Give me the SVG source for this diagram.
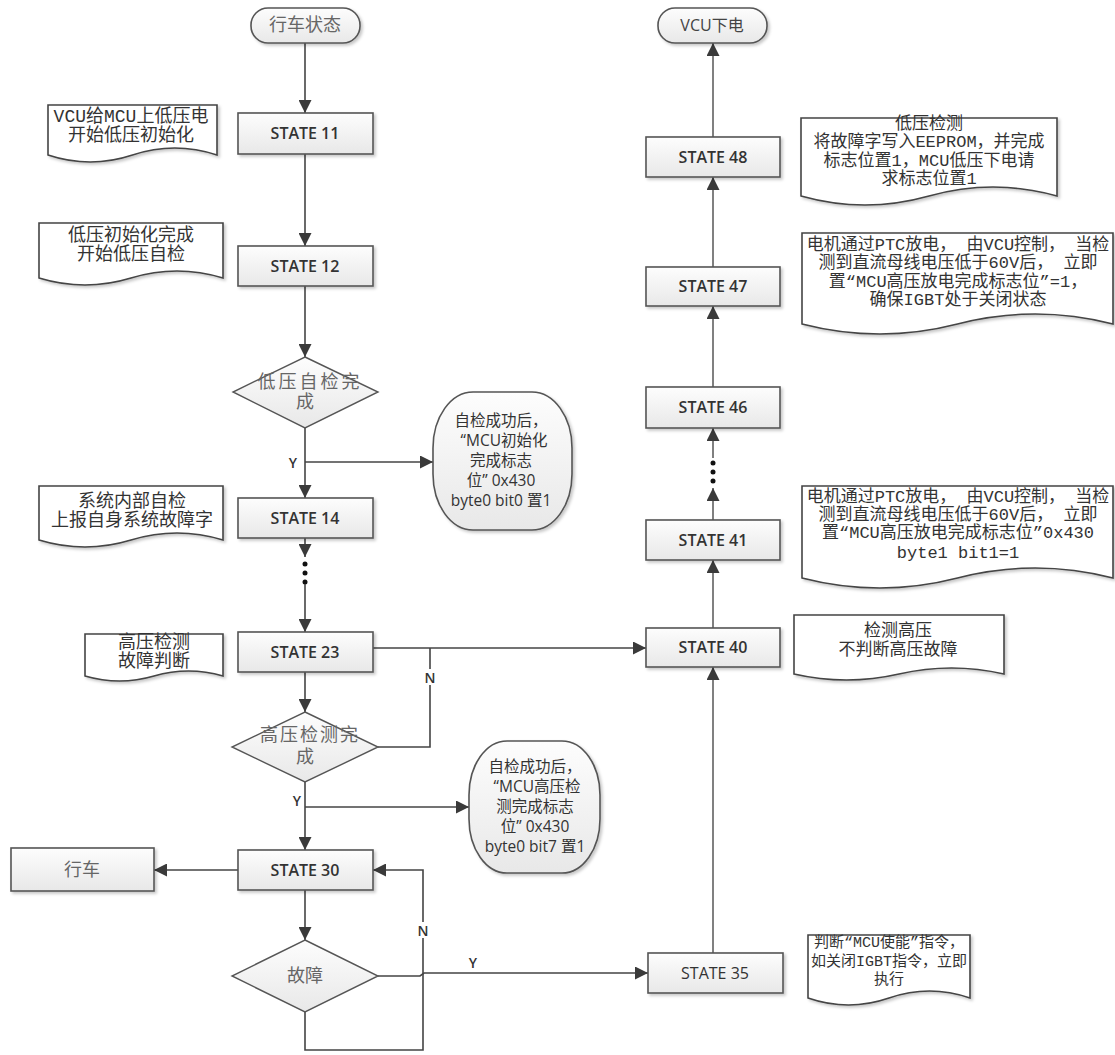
<svg xmlns="http://www.w3.org/2000/svg" width="1115" height="1055" viewBox="0 0 1115 1055">
<defs>
<linearGradient id="g" x1="0" y1="0" x2="0" y2="1"><stop offset="0" stop-color="#fdfdfd"/><stop offset="1" stop-color="#e8e8e8"/></linearGradient>
<filter id="sh" x="-10%" y="-10%" width="130%" height="140%"><feDropShadow dx="2" dy="2" stdDeviation="1.5" flood-color="#000" flood-opacity="0.22"/></filter>
<marker id="ah" viewBox="0 0 10 10" refX="10" refY="5" markerWidth="13" markerHeight="13" markerUnits="userSpaceOnUse" orient="auto"><path d="M0,0 L10,5 L0,10 z" fill="#3a3a3a"/></marker>
</defs>
<style>
.box{fill:url(#g);stroke:#555;stroke-width:1.6;filter:url(#sh)}
.note{fill:#fff;stroke:#444;stroke-width:1.6;filter:url(#sh)}
.dia{fill:url(#g);stroke:#555;stroke-width:1.4}
.st{font-family:"Open Sans","Liberation Sans",sans-serif;font-size:16px;font-weight:600;fill:#333;text-anchor:middle;dominant-baseline:central}
.stn{font-family:"Open Sans","Liberation Sans",sans-serif;font-size:16px;font-weight:400;fill:#333;text-anchor:middle;dominant-baseline:central}
.nl{font-family:"Liberation Mono","Noto Sans CJK SC",monospace;font-size:18px;fill:#333;text-anchor:middle;dominant-baseline:central}
.nm{font-family:"Liberation Mono","Noto Sans CJK SC",monospace;font-size:17px;fill:#333;text-anchor:middle;dominant-baseline:central}
.nr{font-family:"Liberation Mono","Noto Sans CJK SC",monospace;font-size:17px;fill:#333;text-anchor:middle;dominant-baseline:central}
.ns{font-family:"Liberation Mono","Noto Sans CJK SC",monospace;font-size:15px;fill:#333;text-anchor:middle;dominant-baseline:central}
.gr{font-family:"Liberation Serif","Noto Sans CJK SC",serif;font-size:18px;fill:#666;text-anchor:middle;dominant-baseline:central}
.el{font-family:"Open Sans","Noto Sans CJK SC",sans-serif;font-size:15.5px;fill:#333;text-anchor:middle;dominant-baseline:central}
.ln{fill:none;stroke:#444;stroke-width:1.6}
.lr{fill:none;stroke:#808080;stroke-width:2}
.lbl{font-family:"Open Sans","Liberation Sans",sans-serif;font-size:14px;font-weight:600;fill:#333;text-anchor:middle;dominant-baseline:central}
.dot{fill:#111}
</style>
<rect width="1115" height="1055" fill="#fff"/>

<g id="connectors">
<line class="ln" x1="305" y1="43" x2="305" y2="113" marker-end="url(#ah)"/>
<line class="ln" x1="305" y1="154" x2="305" y2="246" marker-end="url(#ah)"/>
<line class="ln" x1="305" y1="286" x2="305" y2="357" marker-end="url(#ah)"/>
<line class="ln" x1="305" y1="428" x2="305" y2="498" marker-end="url(#ah)"/>
<line class="ln" x1="305" y1="462" x2="433" y2="462" marker-end="url(#ah)"/>
<line class="ln" x1="305" y1="538" x2="305" y2="557" marker-end="url(#ah)"/>
<circle class="dot" cx="305" cy="564" r="2.5"/>
<circle class="dot" cx="305" cy="573" r="2.5"/>
<circle class="dot" cx="305" cy="582" r="2.5"/>
<line class="ln" x1="305" y1="584" x2="305" y2="632" marker-end="url(#ah)"/>
<line class="ln" x1="373" y1="648" x2="646" y2="648" marker-end="url(#ah)"/>
<polyline class="ln" points="378,747 430,747 430,648"/>
<line class="ln" x1="305" y1="672" x2="305" y2="712" marker-end="url(#ah)"/>
<line class="ln" x1="305" y1="782" x2="305" y2="850" marker-end="url(#ah)"/>
<line class="ln" x1="305" y1="807" x2="469" y2="807" marker-end="url(#ah)"/>
<line class="ln" x1="238" y1="870" x2="154" y2="870" marker-end="url(#ah)"/>
<line class="ln" x1="305" y1="890" x2="305" y2="940" marker-end="url(#ah)"/>
<polyline class="ln" points="305,1012 305,1050 423,1050 423,870 373,870" marker-end="url(#ah)"/>
<polyline class="ln" points="378,976 420,976 424,973 648,973" marker-end="url(#ah)"/>

<line class="lr" x1="713" y1="953" x2="713" y2="667" marker-end="url(#ah)"/>
<line class="lr" x1="713" y1="628" x2="713" y2="560" marker-end="url(#ah)"/>
<line class="lr" x1="713" y1="520" x2="713" y2="488" marker-end="url(#ah)"/>
<circle class="dot" cx="713" cy="481" r="2.5"/>
<circle class="dot" cx="713" cy="472" r="2.5"/>
<circle class="dot" cx="713" cy="463" r="2.5"/>
<line class="lr" x1="713" y1="458" x2="713" y2="428" marker-end="url(#ah)"/>
<line class="lr" x1="713" y1="387" x2="713" y2="306" marker-end="url(#ah)"/>
<line class="lr" x1="713" y1="267" x2="713" y2="177" marker-end="url(#ah)"/>
<line class="lr" x1="713" y1="137" x2="713" y2="43" marker-end="url(#ah)"/>

<text class="lbl" x="293" y="462">Y</text>
<text class="lbl" x="297" y="800">Y</text>
<rect x="423" y="669" width="14" height="16" fill="#fff"/>
<text class="lbl" x="430" y="677">N</text>
<rect x="416" y="922" width="14" height="16" fill="#fff"/>
<text class="lbl" x="423" y="930">N</text>
<text class="lbl" x="473" y="962">Y</text>
</g>

<g id="start">
<rect class="box" x="251" y="8" width="109" height="35" rx="17" ry="17"/>
<text class="gr" x="305" y="25">行车状态</text>
</g>
<g id="s11"><rect class="box" x="238" y="113" width="135" height="41"/><text class="st" x="305" y="133">STATE 11</text></g>
<g id="s12"><rect class="box" x="238" y="246" width="135" height="40"/><text class="st" x="305" y="266">STATE 12</text></g>
<g id="d1">
<polygon class="dia" points="305,357 378,392 305,428 233,392"/>
<text class="gr" x="310" y="382" letter-spacing="3">低压自检完</text>
<text class="gr" x="305" y="402">成</text>
</g>
<g id="s14"><rect class="box" x="238" y="498" width="135" height="40"/><text class="st" x="305" y="518">STATE 14</text></g>
<g id="s23"><rect class="box" x="238" y="632" width="135" height="40"/><text class="st" x="305" y="652">STATE 23</text></g>
<g id="d2">
<polygon class="dia" points="305,712 378,747 305,782 232,747"/>
<text class="gr" x="310" y="735" letter-spacing="2">高压检测完</text>
<text class="gr" x="305" y="757">成</text>
</g>
<g id="s30"><rect class="box" x="238" y="850" width="135" height="40"/><text class="st" x="305" y="870">STATE 30</text></g>
<g id="d3">
<polygon class="dia" points="305,940 378,976 305,1012 232,976"/>
<text class="gr" x="305" y="976">故障</text>
</g>
<g id="drive"><rect class="box" x="11" y="848" width="143" height="43"/><text class="gr" x="82" y="870">行车</text></g>

<g id="e1">
<rect class="box" x="433" y="392" width="139" height="138" rx="40" ry="56"/>
<text class="el" x="501" y="420">自检成功后，</text>
<text class="el" x="504" y="440">“MCU初始化</text>
<text class="el" x="501" y="460">完成标志</text>
<text class="el" x="501" y="480">位” 0x430</text>
<text class="el" x="501" y="500">byte0 bit0 置1</text>
</g>
<g id="e2">
<rect class="box" x="469" y="741" width="131" height="132" rx="38" ry="54"/>
<text class="el" x="535" y="766">自检成功后，</text>
<text class="el" x="537" y="786">“MCU高压检</text>
<text class="el" x="535" y="806">测完成标志</text>
<text class="el" x="535" y="826">位” 0x430</text>
<text class="el" x="535" y="846">byte0 bit7 置1</text>
</g>

<g id="n1">
<path class="note" d="M48,105 H217 V155 Q174.75,141 132.5,155 T48,155 Z"/>
<text class="nl" x="131" y="117">VCU给MCU上低压电</text>
<text class="nl" x="131" y="136">开始低压初始化</text>
</g>
<g id="n2">
<path class="note" d="M39,223 H223 V278 Q177,264 131,278 T39,278 Z"/>
<text class="nl" x="131" y="236">低压初始化完成</text>
<text class="nl" x="131" y="255">开始低压自检</text>
</g>
<g id="n3">
<path class="note" d="M39,486 H223 V540 Q177,526 131,540 T39,540 Z"/>
<text class="nl" x="132" y="502">系统内部自检</text>
<text class="nl" x="132" y="521">上报自身系统故障字</text>
</g>
<g id="n4">
<path class="note" d="M85,634 H223 V676 Q188.5,666 154,676 T85,676 Z"/>
<text class="nl" x="154" y="643">高压检测</text>
<text class="nl" x="154" y="662">故障判断</text>
</g>

<g id="end">
<rect class="box" x="658" y="8" width="109" height="35" rx="17" ry="17"/>
<text x="712" y="25" style="font-family:'Open Sans','Noto Sans CJK SC',sans-serif;font-size:16px;font-weight:400;fill:#444;text-anchor:middle;dominant-baseline:central">VCU下电</text>
</g>
<g id="s48"><rect class="box" x="646" y="137" width="134" height="40"/><text class="st" x="713" y="157">STATE 48</text></g>
<g id="s47"><rect class="box" x="646" y="267" width="134" height="39"/><text class="st" x="713" y="286">STATE 47</text></g>
<g id="s46"><rect class="box" x="646" y="387" width="134" height="41"/><text class="st" x="713" y="407">STATE 46</text></g>
<g id="s41"><rect class="box" x="646" y="520" width="134" height="40"/><text class="st" x="713" y="540">STATE 41</text></g>
<g id="s40"><rect class="box" x="646" y="628" width="134" height="39"/><text class="st" x="713" y="647">STATE 40</text></g>
<g id="s35"><rect class="box" x="648" y="953" width="135" height="40"/><text class="stn" x="715" y="973">STATE 35</text></g>

<g id="n5">
<path class="note" d="M801,118 H1057 V196 Q993,178 929,196 T801,196 Z"/>
<text class="nr" x="929" y="124">低压检测</text>
<text class="nr" x="929" y="142">将故障字写入EEPROM，并完成</text>
<text class="nr" x="929" y="161">标志位置1，MCU低压下电请</text>
<text class="nr" x="929" y="179">求标志位置1</text>
</g>
<g id="n6">
<path class="note" d="M802,233 H1113 V324 Q1035.25,304 957.5,324 T802,324 Z"/>
<text class="nr" x="958" y="245">电机通过PTC放电， 由VCU控制， 当检</text>
<text class="nr" x="958" y="263">测到直流母线电压低于60V后， 立即</text>
<text class="nr" x="958" y="282">置“MCU高压放电完成标志位”=1，</text>
<text class="nr" x="958" y="300">确保IGBT处于关闭状态</text>
</g>
<g id="n7">
<path class="note" d="M802,486 H1113 V578 Q1035.25,558 957.5,578 T802,578 Z"/>
<text class="nr" x="958" y="497">电机通过PTC放电， 由VCU控制， 当检</text>
<text class="nr" x="958" y="515">测到直流母线电压低于60V后， 立即</text>
<text class="nr" x="958" y="533">置“MCU高压放电完成标志位”0x430</text>
<text class="nr" x="958" y="553">byte1 bit1=1</text>
</g>
<g id="n8">
<path class="note" d="M794,615 H1004 V674 Q951.5,662 899,674 T794,674 Z"/>
<text class="nm" x="898" y="631">检测高压</text>
<text class="nm" x="898" y="650">不判断高压故障</text>
</g>
<g id="n9">
<path class="note" d="M808,935 H970 V998 Q929.5,984 889,998 T808,998 Z"/>
<text class="ns" x="889" y="943">判断“MCU使能”指令，</text>
<text class="ns" x="889" y="962">如关闭IGBT指令，立即</text>
<text class="ns" x="889" y="980">执行</text>
</g>
</svg>
